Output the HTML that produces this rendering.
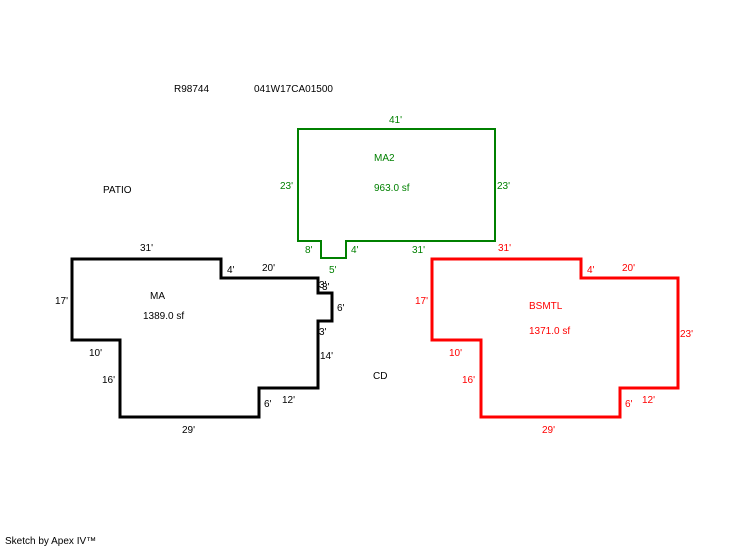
<!DOCTYPE html>
<html><head><style>
body{margin:0;background:#fff;}
svg text{font-family:"Liberation Sans",sans-serif;font-size:10px;}
</style></head><body>
<svg width="746" height="547" xmlns="http://www.w3.org/2000/svg">
<rect width="746" height="547" fill="#fff"/>
<polygon points="298,129 495,129 495,241 346,241 346,258 321,258 321,241 298,241" fill="none" stroke="#008000" stroke-width="2"/>
<polygon points="72,259 221,259 221,278 318,278 318,293 332,293 332,321 318,321 318,388 259,388 259,417 120,417 120,340 72,340" fill="none" stroke="#000" stroke-width="3"/>
<polygon points="432,259 581,259 581,278 678,278 678,388 620,388 620,417 481,417 481,340 432,340" fill="none" stroke="#f00" stroke-width="3"/>
<g fill="#000">
<text x="174" y="92">R98744</text>
<text x="254" y="92">041W17CA01500</text>
<text x="103" y="193">PATIO</text>
<text x="140" y="251">31'</text>
<text x="227" y="273">4'</text>
<text x="262" y="271">20'</text>
<text x="319" y="288">3'</text>
<text x="322" y="290">3'</text>
<text x="337" y="311">6'</text>
<text x="319" y="335">3'</text>
<text x="320" y="359">14'</text>
<text x="282" y="403">12'</text>
<text x="264" y="407">6'</text>
<text x="182" y="433">29'</text>
<text x="89" y="356">10'</text>
<text x="102" y="383">16'</text>
<text x="55" y="304">17'</text>
<text x="150" y="299">MA</text>
<text x="143" y="319">1389.0 sf</text>
<text x="373" y="379">CD</text>
<text x="5" y="544">Sketch by Apex IV™</text>
</g>
<g fill="#008000">
<text x="389" y="123">41'</text>
<text x="280" y="189">23'</text>
<text x="497" y="189">23'</text>
<text x="374" y="161">MA2</text>
<text x="374" y="191">963.0 sf</text>
<text x="305" y="253">8'</text>
<text x="351" y="253">4'</text>
<text x="412" y="253">31'</text>
<text x="329" y="273">5'</text>
</g>
<g fill="#f00">
<text x="498" y="251">31'</text>
<text x="587" y="273">4'</text>
<text x="622" y="271">20'</text>
<text x="415" y="304">17'</text>
<text x="680" y="337">23'</text>
<text x="529" y="309">BSMTL</text>
<text x="529" y="334">1371.0 sf</text>
<text x="449" y="356">10'</text>
<text x="462" y="383">16'</text>
<text x="642" y="403">12'</text>
<text x="625" y="407">6'</text>
<text x="542" y="433">29'</text>
</g>
</svg>
</body></html>
